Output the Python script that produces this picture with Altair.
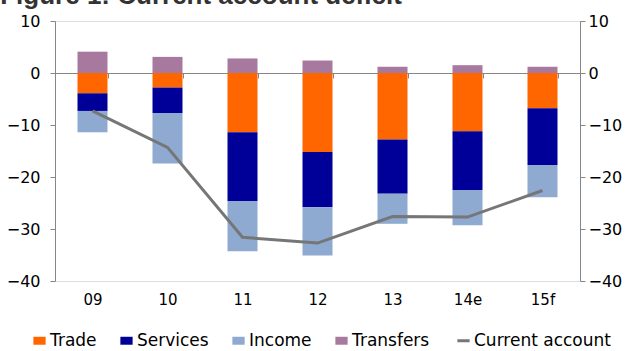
import altair as alt
import pandas as pd

years = ["09", "10", "11", "12", "13", "14e", "15f"]
trade = [-3.9, -2.8, -11.4, -15.2, -12.8, -11.2, -6.8]
services = [-3.4, -4.9, -13.2, -10.6, -10.4, -11.3, -10.9]
income = [-4.1, -9.7, -9.7, -9.3, -5.8, -6.8, -6.2]
transfers = [4.1, 3.1, 2.8, 2.4, 1.2, 1.5, 1.2]
current_account = [-7.3, -14.3, -31.6, -32.7, -27.6, -27.7, -22.6]

series = ["Trade", "Services", "Income", "Transfers"]
legend_names = series + ["Current account"]
colors = ["#FF6600", "#000099", "#8EAAD0", "#A8799F", "#767676"]

rows = []
for i, yr in enumerate(years):
    for k, (name, vals) in enumerate(zip(series, [trade, services, income, transfers])):
        rows.append({"year": yr, "series": name, "value": vals[i], "order": k})
bars_df = pd.DataFrame(rows)
line_df = pd.DataFrame({"year": years, "value": current_account,
                        "series": ["Current account"] * len(years)})

FONT = "DejaVu Sans"
AX = "#868686"

x_axis = alt.Axis(title=None, orient="bottom", offset=-208, domainColor=AX,
                  tickColor=AX, tickSize=5, tickBand="extent", labelAngle=0,
                  labelFont=FONT, labelFontSize=15, labelColor="#000000",
                  labelPadding=214)
x_scale = alt.Scale(paddingInner=0.6, paddingOuter=0.3)
y_scale = alt.Scale(domain=[-40, 10], nice=False, zero=False)
ticks = [-40, -30, -20, -10, 0, 10]


def y_axis(orient, pad):
    return alt.Axis(title=None, orient=orient, values=ticks, grid=False,
                    domainColor=AX, tickColor=AX, tickSize=5,
                    labelFont=FONT, labelFontSize=16, labelColor="#000000",
                    labelPadding=pad)


IS_CA = "datum.value === 'Current account'"
legend = alt.Legend(
    title=None, orient="none", direction="horizontal", legendX=-24, legendY=311,
    labelFont=FONT, labelFontSize=17, labelColor="#000000",
    symbolType=alt.ExprRef(expr=f"{IS_CA} ? 'stroke' : 'M-1,-0.65H1V0.65H-1Z'"),
    symbolSize=150,
    symbolStrokeWidth=alt.ExprRef(expr=f"{IS_CA} ? 3 : 0"),
    symbolStrokeColor=alt.ExprRef(expr="scale('color', datum.value)"),
    symbolFillColor=alt.ExprRef(expr="scale('color', datum.value)"),
    symbolOpacity=1,
    labelOffset=2, columnPadding=21,
)
color = alt.Color("series:N", scale=alt.Scale(domain=legend_names, range=colors),
                  legend=legend)

bars = alt.Chart(bars_df).mark_bar(opacity=1).encode(
    x=alt.X("year:N", sort=years, scale=x_scale, axis=x_axis),
    y=alt.Y("value:Q", stack="zero", scale=y_scale, axis=y_axis("left", 10)),
    color=color,
    order=alt.Order("order:Q"),
)

line = alt.Chart(line_df).mark_line(strokeWidth=3).encode(
    x=alt.X("year:N", sort=years, scale=x_scale, axis=x_axis),
    y=alt.Y("value:Q", scale=y_scale, axis=y_axis("right", 3)),
    color=color,
)

chart = alt.layer(bars, line).resolve_scale(y="shared").resolve_axis(
    y="independent"
).properties(
    width=525, height=260,
    padding={"left": 55, "top": 21, "right": 46, "bottom": 70},
    autosize=alt.AutoSizeParams(type="none"),
    title=alt.TitleParams("Figure 1: Current account deficit", anchor="start",
                          font="Liberation Sans", fontSize=26, fontWeight="bold",
                          color="#333333", dx=-6, dy=21, baseline="alphabetic"),
).configure_view(stroke=None).configure(background="white")

chart.save("out.html", embed_options={"renderer": "svg", "actions": False})
